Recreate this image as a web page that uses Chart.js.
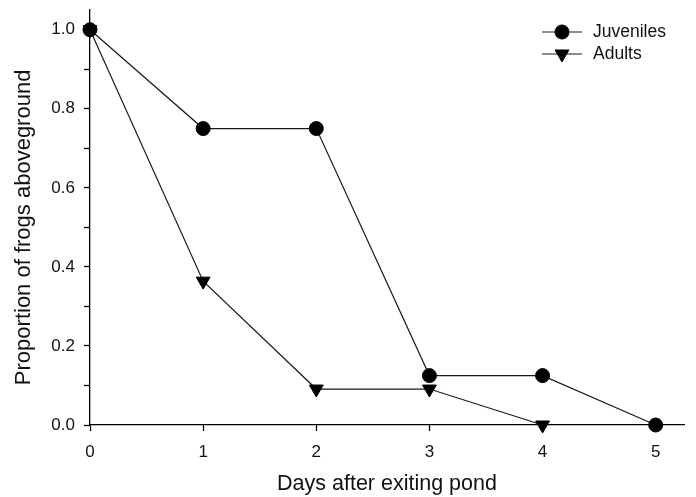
<!DOCTYPE html>
<html>
<head>
<meta charset="utf-8">
<script src="https://cdn.jsdelivr.net/npm/chart.js@4.4.1/dist/chart.umd.min.js"></script>
<style>
  html, body { margin: 0; padding: 0; background: #fff; }
  #wrap { width: 696px; height: 497px; position: relative; }
</style>
</head>
<body>
<div id="wrap"><canvas id="c" width="696" height="497"></canvas></div>
<script>
// ---- data ----
const days = [0, 1, 2, 3, 4, 5];
const juveniles = [1.0, 0.75, 0.75, 0.125, 0.125, 0.0];
const adults = [1.0, 0.364, 0.091, 0.091, 0.0, null];
const seriesNames = ['Juveniles', 'Adults'];
const xTickValues = [0, 1, 2, 3, 4, 5];
const yTickValues = [0, 0.1, 0.2, 0.3, 0.4, 0.5, 0.6, 0.7, 0.8, 0.9, 1.0];
const yTickLabels = ['0.0', '', '0.2', '', '0.4', '', '0.6', '', '0.8', '', '1.0'];
const xTitle = 'Days after exiting pond';
const yTitle = 'Proportion of frogs aboveground';

const FONT = "'Liberation Sans', Arial, Helvetica, sans-serif";
const INK = '#111';

const toPts = (vals) => days.map((d, i) => ({ x: d, y: vals[i] }));

const legendPlugin = {
  id: 'lineMarkerLegend',
  afterDraw(chart) {
    const ctx = chart.ctx;
    const ca = chart.chartArea;
    const x0 = ca.right - 142, x1 = ca.right - 102, xm = ca.right - 122;
    const rows = [ca.top + 22, ca.top + 44];
    ctx.save();
    chart.data.datasets.forEach((ds, i) => {
      const y = rows[i];
      ctx.strokeStyle = ds.borderColor;
      ctx.lineWidth = ds.borderWidth;
      ctx.beginPath();
      ctx.moveTo(x0, y);
      ctx.lineTo(x1, y);
      ctx.stroke();
      ctx.fillStyle = ds.pointBackgroundColor;
      ctx.strokeStyle = ds.pointBorderColor;
      ctx.lineWidth = 1;
      Chart.helpers.drawPoint(ctx, {
        pointStyle: ds.pointStyle,
        radius: ds.pointRadius,
        rotation: ds.pointRotation || 0,
        borderWidth: 1
      }, xm, y);
      ctx.fillStyle = INK;
      ctx.font = '17.5px ' + FONT;
      ctx.textAlign = 'left';
      ctx.textBaseline = 'middle';
      ctx.fillText(ds.label, x1 + 11, y);
    });
    ctx.restore();
  }
};

const titleShiftPlugin = {
  id: 'yTitleShift',
  afterLayout(chart) {
    const s = chart.scales.y;
    if (!s || s._titleWrapped) return;
    const orig = s.drawTitle;
    s.drawTitle = function () {
      const t = this.top;
      const mid = this.getPixelForValue(0.5);
      this.top = 2 * mid - this.bottom;
      orig.call(this);
      this.top = t;
    };
    s._titleWrapped = true;
  }
};

new Chart(document.getElementById('c'), {
  type: 'line',
  data: {
    datasets: [
      {
        label: seriesNames[0],
        data: toPts(juveniles),
        borderColor: '#1a1a1a',
        borderWidth: 1.2,
        pointStyle: 'circle',
        pointRadius: 7,
        pointBackgroundColor: '#000',
        pointBorderColor: '#000',
        pointBorderWidth: 1,
        tension: 0,
        clip: false
      },
      {
        label: seriesNames[1],
        data: toPts(adults),
        borderColor: '#1a1a1a',
        borderWidth: 1.2,
        pointStyle: 'triangle',
        pointRotation: 180,
        pointRadius: 8,
        pointBackgroundColor: '#000',
        pointBorderColor: '#000',
        pointBorderWidth: 1,
        tension: 0,
        spanGaps: false,
        clip: false
      }
    ]
  },
  options: {
    responsive: false,
    animation: false,
    devicePixelRatio: 1,
    layout: { padding: { top: 10, right: 12, left: 0, bottom: 0 } },
    plugins: {
      legend: { display: false },
      tooltip: { enabled: false }
    },
    scales: {
      x: {
        type: 'linear',
        min: 0,
        max: 5.25,
        afterBuildTicks(scale) { scale.ticks = xTickValues.map(v => ({ value: v })); },
        afterFit(scale) { scale.height = 72; scale.paddingLeft = 0; scale.paddingRight = 0; },
        ticks: {
          autoSkip: false,
          padding: 11,
          color: INK,
          font: { family: FONT, size: 17 },
          callback: (v) => String(v)
        },
        grid: { drawOnChartArea: false, drawTicks: true, tickLength: 6, tickWidth: 1.3, tickColor: '#000' },
        border: { display: true, color: '#000', width: 1.3 },
        title: { display: true, text: xTitle, color: INK, font: { family: FONT, size: 21.5 }, padding: { top: 0, bottom: 0 } }
      },
      y: {
        type: 'linear',
        min: 0,
        max: 1.05,
        afterBuildTicks(scale) { scale.ticks = yTickValues.map(v => ({ value: v })); },
        afterFit(scale) { scale.width = 90; scale.paddingTop = 0; scale.paddingBottom = 0; },
        ticks: {
          autoSkip: false,
          padding: 9,
          color: INK,
          font: { family: FONT, size: 17 },
          callback: (v, i) => yTickLabels[i]
        },
        grid: { drawOnChartArea: false, drawTicks: true, tickLength: 6, tickWidth: 1.3, tickColor: '#000' },
        border: { display: true, color: '#000', width: 1.3 },
        title: { display: true, text: yTitle, color: INK, font: { family: FONT, size: 22 }, padding: { top: 11, bottom: 0 } }
      }
    }
  },
  plugins: [legendPlugin, titleShiftPlugin]
});
</script>
</body>
</html>
